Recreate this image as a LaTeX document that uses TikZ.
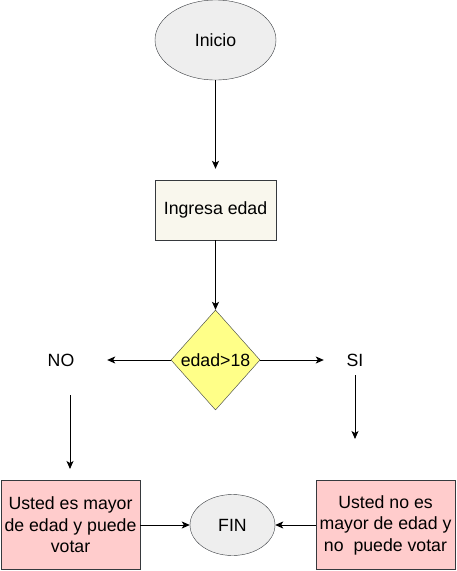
\documentclass[tikz,border=0pt]{standalone}
\usepackage{fontspec}
\setmainfont{Liberation Sans}
\usepackage{xcolor}
\usetikzlibrary{positioning, arrows.meta, shapes.geometric}
\definecolor{drawgray}{HTML}{36393D}
\definecolor{startfill}{HTML}{EEEEEE}
\definecolor{inputfill}{HTML}{F9F7ED}
\definecolor{condfill}{HTML}{FFFF88}
\definecolor{resultfill}{HTML}{FFCCCC}

\begin{document}
\begin{tikzpicture}[x=1pt, y=-1pt,
    font=\fontsize{17.7}{21.5}\selectfont,
    startstop/.style={ellipse, draw=drawgray, fill=startfill, inner sep=0pt},
    inputbox/.style={rectangle, draw=drawgray, fill=inputfill, minimum width=121pt, minimum height=60pt, inner sep=0pt},
    decision/.style={diamond, draw=drawgray, fill=condfill, minimum width=89pt, minimum height=100pt, inner sep=0pt},
    answer/.style={rectangle, inner sep=0pt, minimum height=30pt},
    resultbox/.style={rectangle, draw=drawgray, fill=resultfill, minimum width=139pt, minimum height=89pt, inner sep=0pt, align=center},
    arrow/.style={-{Stealth[length=8pt, width=7pt, inset=2pt]}, line width=1pt}]
    % Fix the page size
    \useasboundingbox (0,0) rectangle (456,571);

    % Draw the start, input and decision
    \node[startstop, minimum width=121pt, minimum height=80pt] (inicio) at (215.5,40) {Inicio};
    \node[inputbox] (ingresa) at (215.5,210) {Ingresa edad};
    \node[decision] (cond) at (215.5,360) {edad>18};

    % Draw the two answers
    \node[answer, minimum width=92pt] (no) at (61,360) {NO};
    \node[answer, minimum width=62pt] (si) at (355,360) {SI};
    \coordinate (noTop) at (70,395);
    \coordinate (noEnd) at (70,469);
    \coordinate (siTop) at (355,375);
    \coordinate (siEnd) at (355,439);

    % Draw the results and the end
    \node[resultbox] (mayor) at (70.5,525) {Usted es mayor\\de edad y puede\\votar};
    \node[resultbox] (menor) at (385.5,525) {Usted no es\\mayor de edad y\\no\ \ puede votar};
    \node[startstop, minimum width=85pt, minimum height=61pt] (fin) at (232.5,525) {FIN};

    % Draw the connectors
    \draw[arrow, shorten >=11pt] (inicio) -- (ingresa);
    \draw[arrow] (ingresa) -- (cond);
    \draw[arrow] (cond.west) -- (no.east);
    \draw[arrow] (cond.east) -- (si.west);
    \draw[arrow] (noTop) -- (noEnd);
    \draw[arrow] (siTop) -- (siEnd);
    \draw[arrow] (mayor.east) -- (fin.west);
    \draw[arrow] (menor.west) -- (fin.east);
\end{tikzpicture}
\end{document}
